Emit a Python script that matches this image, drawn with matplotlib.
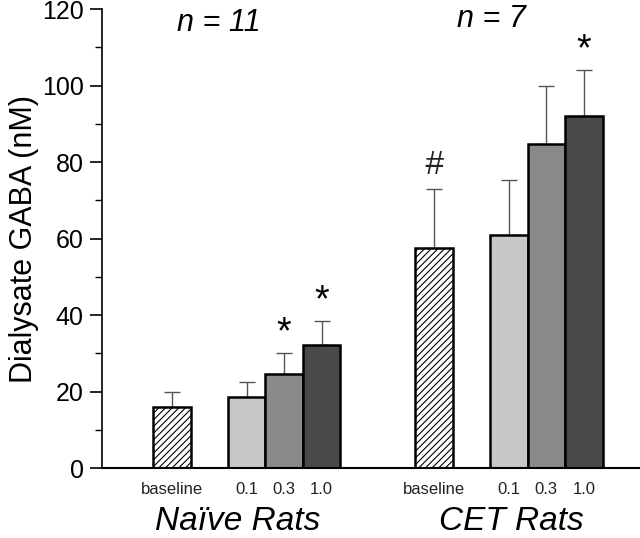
import numpy as np
import matplotlib.pyplot as plt

plt.rcParams['font.family'] = ['Liberation Sans', 'DejaVu Sans']
plt.rcParams['hatch.color'] = '#555555'
plt.rcParams['hatch.linewidth'] = 0.8

# data (nM)
tick_labels = ['baseline', '0.1', '0.3', '1.0', 'baseline', '0.1', '0.3', '1.0']
positions = [0, 2, 3, 4, 7, 9, 10, 11]
means = [16.0, 18.5, 24.5, 32.3, 57.5, 61.0, 84.8, 92.0]
sems = [3.8, 3.9, 5.5, 6.2, 15.5, 14.3, 15.2, 12.0]
groups = ['Naïve Rats', 'CET Rats']
group_n = ['n = 11', 'n = 7']
marks = ['', '', '*', '*', '#', '', '', '*']

fills = ['white', '#c8c8c8', '#8a8a8a', '#4a4a4a'] * 2
hatches = ['/////', None, None, None] * 2

fig = plt.figure(figsize=(6.4, 5.38), dpi=100)
ax = fig.add_axes([0.159, 0.130, 0.841, 0.853])

for x, m, e, fc, h in zip(positions, means, sems, fills, hatches):
    ax.errorbar(x, m, yerr=[[0], [e]], fmt='none', ecolor='#555555',
                elinewidth=1.0, capsize=6, capthick=1.0, zorder=1)
    ax.bar(x, m, width=1.0, color=fc, edgecolor='black', linewidth=1.8,
           hatch=h, zorder=2)

# significance marks
for x, m, e, s in zip(positions, means, sems, marks):
    if s == '*':
        ax.text(x, m + e + 0.5, s, ha='center', va='bottom', fontsize=27)
    elif s == '#':
        ax.text(x, m + e + 2, s, ha='center', va='bottom', fontsize=24,
                fontstyle='italic', fontweight='light', color='#222222')

# n labels
ax.text(1.25, 116.5, group_n[0], ha='center', va='center', fontsize=22,
        fontstyle='italic')
ax.text(8.53, 117.5, group_n[1], ha='center', va='center', fontsize=22,
        fontstyle='italic')

ax.set_xlim(-1.87, 12.5)
ax.set_ylim(0, 120)
ax.set_xticks(positions)
ax.set_xticklabels(tick_labels, fontsize=12, color='#222222')
ax.tick_params(axis='x', length=0, pad=10)
ax.set_yticks(np.arange(0, 121, 20))
ax.set_yticks(np.arange(0, 121, 10), minor=True)
ax.tick_params(axis='y', which='major', length=9, width=1.2, labelsize=18, pad=4)
ax.tick_params(axis='y', which='minor', length=5, width=1.0)
ax.set_ylabel('Dialysate GABA (nM)', fontsize=22, labelpad=2)

for side in ['top', 'right']:
    ax.spines[side].set_visible(False)
ax.spines['left'].set_linewidth(1.2)
ax.spines['bottom'].set_linewidth(1.5)

# group labels under the ticks
ax.text(1.75, -14.0, groups[0], ha='center', va='center', fontsize=24,
        fontstyle='italic', clip_on=False)
ax.text(9.07, -14.0, groups[1], ha='center', va='center', fontsize=24,
        fontstyle='italic', clip_on=False)

fig.savefig('out.png', dpi=100, facecolor='white')
